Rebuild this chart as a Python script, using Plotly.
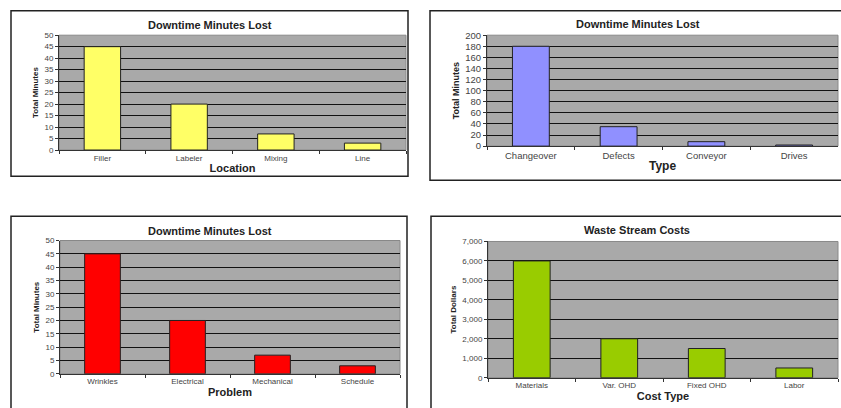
import plotly.graph_objects as go

W, H = 841, 408

# ---- data ----
loc_cats = ["Filler", "Labeler", "Mixing", "Line"]
loc_vals = [45, 20, 7, 3]

type_cats = ["Changeover", "Defects", "Conveyor", "Drives"]
type_vals = [180, 35, 8, 2]

prob_cats = ["Wrinkles", "Electrical", "Mechanical", "Schedule"]
prob_vals = [45, 20, 7, 3]

cost_cats = ["Materials", "Var. OHD", "Fixed OHD", "Labor"]
cost_vals = [6000, 2000, 1500, 500]

FONT = "Liberation Sans, Arial, sans-serif"

panels = [
    dict(cats=loc_cats, vals=loc_vals, color="#ffff66", title="Downtime Minutes Lost",
         xt="Location", yt="Total Minutes", ymax=50, dtick=5, fmt="",
         box=(11, 5, 408, 175), plot=(59, 30, 406, 148), tc=(210, 20), fs=8, yts=8),
    dict(cats=type_cats, vals=type_vals, color="#9090ff", title="Downtime Minutes Lost",
         xt="Type", yt="Total Minutes", ymax=200, dtick=20, fmt="",
         box=(430, 5, 850, 179), plot=(487, 30, 838, 144), tc=(638, 19), fs=9.5, yts=9),
    dict(cats=prob_cats, vals=prob_vals, color="#ff0000", title="Downtime Minutes Lost",
         xt="Problem", yt="Total Minutes", ymax=50, dtick=5, fmt="",
         box=(11, 216, 407, 420), plot=(60, 241, 400, 378), tc=(210, 231), fs=8, yts=8),
    dict(cats=cost_cats, vals=cost_vals, color="#99cc00", title="Waste Stream Costs",
         xt="Cost Type", yt="Total Dollars", ymax=7000, dtick=1000, fmt=",",
         box=(431, 216, 850, 420), plot=(488, 242, 838, 382), tc=(637, 230), fs=8, yts=8),
]

def px(x):
    return x / W

def py(y):
    return 1 - y / H

fig = go.Figure()
shapes = []
annotations = []
layout = {}

for i, p in enumerate(panels, start=1):
    xa = "xaxis" if i == 1 else f"xaxis{i}"
    ya = "yaxis" if i == 1 else f"yaxis{i}"
    xr = "x" if i == 1 else f"x{i}"
    yr = "y" if i == 1 else f"y{i}"
    bx0, by0, bx1, by1 = p["box"]
    x0, y0, x1, y1 = p["plot"]
    shapes.append(dict(type="rect", xref="paper", yref="paper",
                       x0=px(bx0), x1=px(bx1), y0=py(by1), y1=py(by0),
                       line=dict(color="#222222", width=1.5), fillcolor="white", layer="below"))
    shapes.append(dict(type="rect", xref="paper", yref="paper",
                       x0=px(x0), x1=px(x1), y0=py(y1), y1=py(y0),
                       line=dict(color="#888888", width=1), fillcolor="#a9a9a9", layer="below"))
    fig.add_trace(go.Bar(x=p["cats"], y=p["vals"], xaxis=xr, yaxis=yr,
                         marker=dict(color=p["color"], line=dict(color="#222222", width=1)),
                         width=0.42, showlegend=False))
    layout[xa] = dict(domain=[px(x0), px(x1)], anchor=yr, type="category",
                      showgrid=False, ticks="outside", tickson="boundaries", ticklen=3,
                      tickcolor="#333333", showline=True, linecolor="#333333",
                      tickfont=dict(size=p["fs"], color="#444444", family=FONT),
                      title=dict(text=f"<b>{p['xt']}</b>",
                                 font=dict(size=11 if p["fs"] == 8 else 12, color="#222222", family=FONT),
                                 standoff=2))
    layout[ya] = dict(domain=[py(y1), py(y0)], anchor=xr, range=[0, p["ymax"]],
                      dtick=p["dtick"], tickformat=p["fmt"], showgrid=True,
                      gridcolor="#111111", gridwidth=1, ticks="outside", ticklen=3,
                      tickcolor="#333333", showline=True, linecolor="#333333", zeroline=False,
                      tickfont=dict(size=p["fs"], color="#444444", family=FONT),
                      title=dict(text=f"<b>{p['yt']}</b>", font=dict(size=p["yts"], color="#222222", family=FONT),
                                 standoff=4))
    tx, ty = p["tc"]
    annotations.append(dict(text=f"<b>{p['title']}</b>", xref="paper", yref="paper",
                            x=px(tx), y=py(ty), xanchor="center", yanchor="middle",
                            showarrow=False,
                            font=dict(size=11, color="#222222", family=FONT)))

fig.update_layout(width=W, height=H, margin=dict(l=0, r=0, t=0, b=0),
                  paper_bgcolor="white", plot_bgcolor="rgba(0,0,0,0)",
                  shapes=shapes, annotations=annotations, bargap=0.6, **layout)

fig.write_html("out.html")
